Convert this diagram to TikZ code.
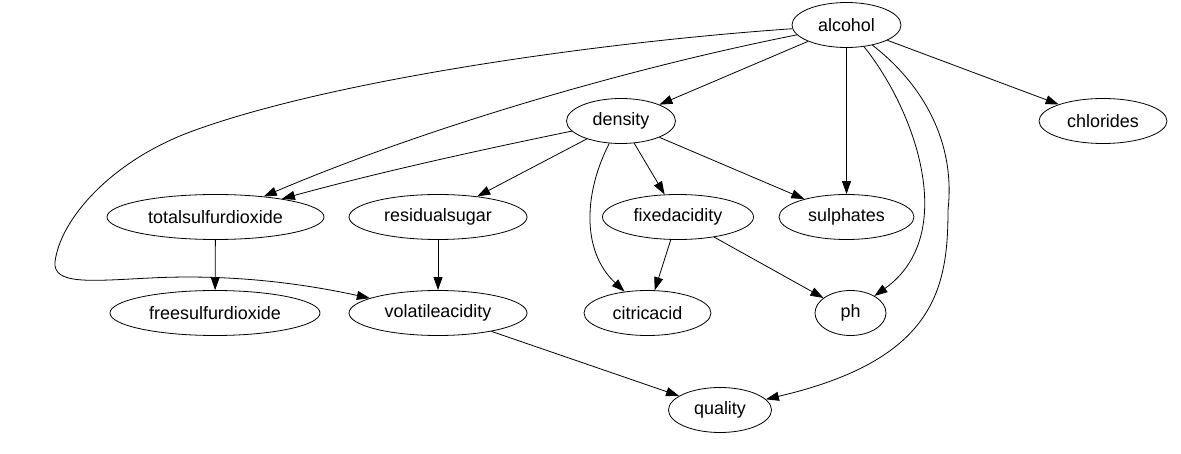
\documentclass[tikz,border=0pt]{standalone}
\usepackage{fontspec}
\setmainfont{Liberation Sans}
\usetikzlibrary{shapes.geometric,arrows.meta}
\begin{document}
\begin{tikzpicture}[x=1bp,y=-1bp,
  var/.style={draw, ellipse, inner sep=0pt, minimum height=45bp, line width=0.8bp,
    font=\fontsize{18}{20}\selectfont},
  edge/.style={-{Triangle[length=13bp,width=9bp]}, line width=0.8bp}]
\useasboundingbox[fill=white] (0,0) rectangle (1181,454);
% nodes
\node[var, minimum width=109bp] (alcohol) at (846.5,25) {alcohol};
\node[var, minimum width=109bp] (density) at (621,121) {density};
\node[var, minimum width=128bp] (chlorides) at (1103,121) {chlorides};
\node[var, minimum width=217bp] (tsd) at (215.5,217) {totalsulfurdioxide};
\node[var, minimum width=178bp] (rs) at (438,217) {residualsugar};
\node[var, minimum width=151bp] (fa) at (678,217) {fixedacidity};
\node[var, minimum width=135bp] (sul) at (846.5,217) {sulphates};
\node[var, minimum width=210bp] (fsd) at (215,313) {freesulfurdioxide};
\node[var, minimum width=178bp] (va) at (438,313) {volatileacidity};
\node[var, minimum width=127bp] (ca) at (647.5,313) {citricacid};
\node[var, minimum width=71bp] (ph) at (850.5,313) {ph};
\node[var, minimum width=103bp] (quality) at (720,410) {quality};
% helper coordinates for the long loop and curves
\coordinate (l1) at (190,132);
\coordinate (l2) at (55,262);
\coordinate (l3) at (150,278);
\coordinate (q1) at (948,210);
% edges
\draw[edge] (alcohol) -- (density);
\draw[edge] (alcohol) -- (chlorides);
\draw[edge] (alcohol) -- (sul);
\draw[edge] (alcohol) .. controls (915,110) and (960,235) .. (ph);
\draw[edge] (alcohol) .. controls (930,90) and (955,150) .. (q1)
  .. controls (948,290) and (934,360) .. (quality);
\draw[edge] (alcohol) .. controls (620,70) and (420,130) .. (tsd);
\draw[edge] (alcohol) .. controls (600,42) and (330,80) .. (l1)
  .. controls (110,162) and (60,220) .. (l2)
  .. controls (53,285) and (90,281) .. (l3)
  .. controls (230,274) and (300,283) .. (va);
\draw[edge] (density) .. controls (480,150) and (380,172) .. (tsd);
\draw[edge] (density) -- (rs);
\draw[edge] (density) -- (fa);
\draw[edge] (density) -- (sul);
\draw[edge] (density) .. controls (585,190) and (580,250) .. (ca);
\draw[edge] (tsd) -- (fsd);
\draw[edge] (rs) -- (va);
\draw[edge] (fa) -- (ca);
\draw[edge] (fa) -- (ph);
\draw[edge] (va) -- (quality);
\end{tikzpicture}
\end{document}
